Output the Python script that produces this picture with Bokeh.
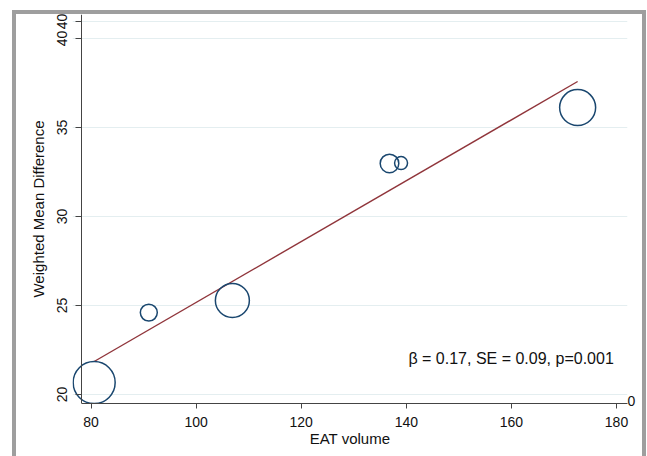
from bokeh.plotting import figure
from bokeh.models import Range1d, Label, FixedTicker, LinearAxis, Span
from bokeh.embed import file_html
from bokeh.resources import INLINE
import numpy as np

# ---- data ----
eat_volume = [80.6, 91.0, 106.9, 136.8, 139.0, 172.6]
wmd = [20.67, 24.60, 25.28, 32.98, 33.00, 36.12]
study_weight = [44.1, 7.2, 28.9, 8.65, 4.2, 32.4]
intercept = 8.07
slope = 0.171
x_ticks = [80, 100, 120, 140, 160, 180]
y_ticks = [20, 25, 30, 35, 40]
ghost_left_tick = 40.96      # duplicated "40" visible above the axis
ghost_right_tick = 19.66     # stray "0" at the right end of the x axis
stats_text = "β = 0.17, SE = 0.09, p=0.001"
x_title = "EAT volume"
y_title = "Weighted Mean Difference"

FONT = "Liberation Sans"
NAVY = "#1a476f"
MAROON = "#90353b"
GRID = "#e4eef0"
AXIS = "#444444"
FRAME = "#9e9e9e"

x_axis_at = 78.19            # x value where the y axis line sits
x_lo, x_hi = 76.477, 182.09  # plot region reaches a little left of the axis
y_lo, y_hi = 19.494, 41.348

p = figure(width=647, height=456, output_backend="svg", toolbar_location=None,
           x_range=Range1d(x_lo, x_hi), y_range=Range1d(y_lo, y_hi),
           min_border_left=72, min_border_right=20, min_border_top=14,
           min_border_bottom=53, outline_line_color=None,
           background_fill_color="white", border_fill_color=None)

# gray frame around the original figure (drawn as the element background)
bar = f"linear-gradient({FRAME},{FRAME})"
p.styles = {"background": (f"{bar} 12px 10px / 4px 446px no-repeat, "
                           f"{bar} 12px 10px / 634px 4px no-repeat, "
                           f"{bar} 642px 10px / 4px 446px no-repeat, white")}

p.xgrid.grid_line_color = None
p.ygrid.ticker = FixedTicker(ticks=y_ticks + [ghost_left_tick])
p.ygrid.grid_line_color = GRID
p.ygrid.grid_line_width = 1

for ax in (p.xaxis[0], p.yaxis[0]):
    ax.axis_line_color = AXIS
    ax.axis_line_width = 1
    ax.major_tick_line_color = AXIS
    ax.minor_tick_line_color = None
    ax.major_label_text_font = FONT
    ax.major_label_text_font_size = "14px"
    ax.major_label_text_color = "#111111"
    ax.major_label_text_line_height = 1.0
    ax.axis_label_text_font = FONT
    ax.axis_label_text_font_size = "15px"
    ax.axis_label_text_font_style = "normal"
    ax.axis_label_text_color = "#111111"
    ax.axis_label_text_line_height = 1.0

p.xaxis.ticker = FixedTicker(ticks=x_ticks)
p.xaxis.major_tick_in = 0
p.xaxis.major_tick_out = 5
p.xaxis.major_label_standoff = 8
p.xaxis.axis_label = x_title
p.xaxis.axis_label_standoff = 0
p.xaxis.bounds = (x_axis_at, x_hi)

# y axis: its ruler is drawn at x_axis_at, ticks reach out 6px from it
p.yaxis.ticker = FixedTicker(ticks=y_ticks + [ghost_left_tick])
p.yaxis.major_label_overrides = {ghost_left_tick: "40"}
p.yaxis.axis_line_color = None
p.yaxis.major_tick_in = 9
p.yaxis.major_tick_out = -3
p.yaxis.major_label_orientation = "vertical"
p.yaxis.major_label_standoff = 5
p.yaxis.axis_label = y_title
p.yaxis.axis_label_standoff = 8
p.add_layout(Span(location=x_axis_at, dimension="height", line_color=AXIS,
                  line_width=1))

ghost = LinearAxis(ticker=FixedTicker(ticks=[ghost_right_tick]),
                   major_label_overrides={ghost_right_tick: "0"},
                   axis_line_color=None, major_tick_line_color=None,
                   minor_tick_line_color=None, major_tick_out=0,
                   major_label_standoff=0, major_label_text_font=FONT,
                   major_label_text_font_size="14px",
                   major_label_text_color="#111111")
p.add_layout(ghost, "right")

xf = np.array([min(eat_volume), max(eat_volume)])
p.line(xf, intercept + slope * xf, line_color=MAROON, line_width=1.4)

sizes = [2 * np.sqrt(10 * w) for w in study_weight]
p.scatter(eat_volume, wmd, size=sizes, marker="circle", fill_color=None,
          line_color=NAVY, line_width=1.5)

p.add_layout(Label(x=140.4, y=22.0, text=stats_text, text_baseline="middle",
                   text_align="left", text_font=FONT, text_font_size="16px",
                   text_color="#111111"))

open("out.html", "w").write(file_html(p, INLINE))
